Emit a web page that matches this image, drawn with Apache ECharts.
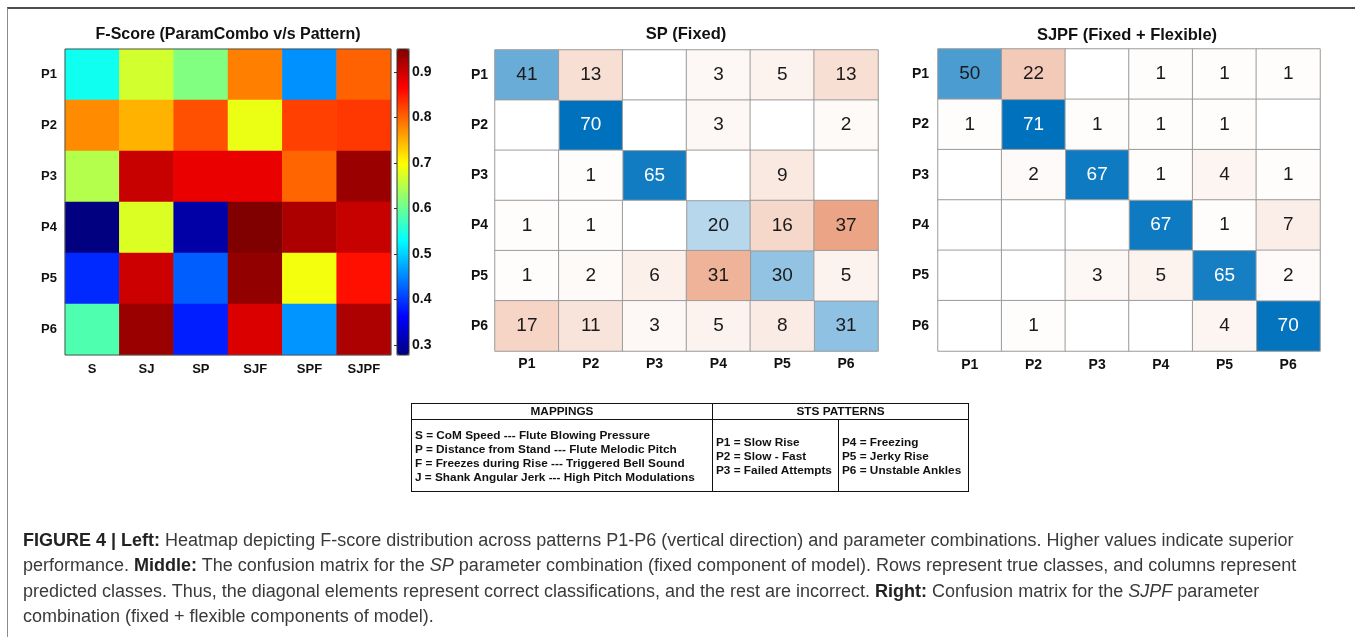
<!DOCTYPE html>
<html>
<head>
<meta charset="utf-8">
<script src="https://cdn.jsdelivr.net/npm/echarts@6/dist/echarts.min.js"></script>
<style>
  html, body { margin: 0; padding: 0; background: #fff; }
  #wrap { position: relative; width: 1355px; height: 637px; overflow: hidden; }
  #chart { position: absolute; left: 0; top: 0; width: 1355px; height: 637px; }
  #frame { position: absolute; left: 7px; top: 7px; width: 1400px; height: 700px;
           border-top: 2px solid #4d4d4d; border-left: 1.5px solid #8c8c8c; pointer-events: none; }
  #mapTable { position: absolute; left: 411px; top: 403px; border-collapse: collapse; table-layout: fixed;
              font-family: 'Liberation Sans', Arial, Helvetica, sans-serif; font-weight: bold;
              font-size: 11.8px; color: #111; }
  #mapTable th, #mapTable td { border: 1.5px solid #111; padding: 0 3px; overflow: hidden; }
  #mapTable th { height: 15px; line-height: 15px; text-align: center; }
  #mapTable td { height: 71px; line-height: 14px; vertical-align: middle; white-space: nowrap; }
  #caption { position: absolute; left: 23px; top: 528px; font-family: 'Liberation Sans', Arial, Helvetica, sans-serif;
             font-size: 18px; line-height: 25.4px; color: #3a3a3a; white-space: nowrap; }
  #caption b { color: #222; }
</style>
</head>
<body>
<div id="wrap">
  <div id="chart"></div>
  <div id="frame"></div>
  <table id="mapTable">
    <colgroup><col style="width:301px"><col style="width:126px"><col style="width:130px"></colgroup>
    <tr><th>MAPPINGS</th><th colspan="2">STS PATTERNS</th></tr>
    <tr>
      <td>S = CoM Speed --- Flute Blowing Pressure<br>P = Distance from Stand --- Flute Melodic Pitch<br>F = Freezes during Rise --- Triggered Bell Sound<br>J = Shank Angular Jerk --- High Pitch Modulations</td>
      <td>P1 = Slow Rise<br>P2 = Slow - Fast<br>P3 = Failed Attempts</td>
      <td>P4 = Freezing<br>P5 = Jerky Rise<br>P6 = Unstable Ankles</td>
    </tr>
  </table>
  <div id="caption">
    <b>FIGURE 4 | Left:</b> Heatmap depicting F-score distribution across patterns P1-P6 (vertical direction) and parameter combinations. Higher values indicate superior<br>
    performance. <b>Middle:</b> The confusion matrix for the <i>SP</i> parameter combination (fixed component of model). Rows represent true classes, and columns represent<br>
    predicted classes. Thus, the diagonal elements represent correct classifications, and the rest are incorrect. <b>Right:</b> Confusion matrix for the <i>SJPF</i> parameter<br>
    combination (fixed + flexible components of model).
  </div>
</div>
<script>
// Row / column categories
const patterns = ['P1', 'P2', 'P3', 'P4', 'P5', 'P6'];
const paramCombos = ['S', 'SJ', 'SP', 'SJF', 'SPF', 'SJPF'];

// F-score per pattern (rows) and parameter combination (columns)
const fScoreP1 = [0.540, 0.668, 0.614, 0.782, 0.457, 0.802];
const fScoreP2 = [0.774, 0.748, 0.814, 0.685, 0.824, 0.830];
const fScoreP3 = [0.648, 0.903, 0.879, 0.879, 0.800, 0.932];
const fScoreP4 = [0.278, 0.675, 0.303, 0.950, 0.921, 0.903];
const fScoreP5 = [0.389, 0.900, 0.424, 0.938, 0.690, 0.856];
const fScoreP6 = [0.582, 0.932, 0.382, 0.890, 0.460, 0.920];
const fScore = [fScoreP1, fScoreP2, fScoreP3, fScoreP4, fScoreP5, fScoreP6];

// Confusion matrix, SP (fixed): rows = true class, columns = predicted class
const spMatrix = [
  [41, 13, 0, 3, 5, 13],
  [0, 70, 0, 3, 0, 2],
  [0, 1, 65, 0, 9, 0],
  [1, 1, 0, 20, 16, 37],
  [1, 2, 6, 31, 30, 5],
  [17, 11, 3, 5, 8, 31]
];

// Confusion matrix, SJPF (fixed + flexible)
const sjpfMatrix = [
  [50, 22, 0, 1, 1, 1],
  [1, 71, 1, 1, 1, 0],
  [0, 2, 67, 1, 4, 1],
  [0, 0, 0, 67, 1, 7],
  [0, 0, 3, 5, 65, 2],
  [0, 1, 0, 0, 4, 70]
];

// Colour bar tick labels
const colorbarTicks = [0.3, 0.4, 0.5, 0.6, 0.7, 0.8, 0.9];

const FONT = "'Liberation Sans', Arial, Helvetica, sans-serif";
const JET = ['#000080', '#0000ff', '#0080ff', '#00ffff', '#80ff80', '#ffff00', '#ff8000', '#ff0000', '#800000'];
const DIAG_COLOR = '#0072BD';
const OFF_COLOR = '#D95319';

const allF = fScore.flat();
const fMin = Math.min(...allF);
const fMax = Math.max(...allF);

const heatData = [];
fScore.forEach((row, i) => row.forEach((v, j) => heatData.push([j, i, v])));

function cmData(matrix, diagonal) {
  const max = Math.max(...matrix.flat());
  const out = [];
  matrix.forEach((row, i) => row.forEach((v, j) => {
    if ((i === j) !== diagonal) return;
    out.push({ value: [j, i, v], label: { color: v / max > 0.8 ? '#ffffff' : '#1a1a1a' } });
  }));
  return out;
}

function cmSeries(matrix, diagonal, axisIdx) {
  return {
    type: 'heatmap',
    xAxisIndex: axisIdx, yAxisIndex: axisIdx,
    data: cmData(matrix, diagonal),
    itemStyle: { borderColor: '#9b9b9b', borderWidth: 1 },
    label: {
      show: true, fontFamily: FONT, fontSize: 19,
      formatter: p => (p.value[2] === 0 ? '' : String(p.value[2]))
    },
    emphasis: { disabled: true },
    silent: true
  };
}

const catLabel = { fontFamily: FONT, fontWeight: 'bold', fontSize: 14, color: '#111' };

const option = {
  animation: false,
  grid: [
    { left: 65, top: 49, width: 326, height: 306, show: true, borderColor: '#555', borderWidth: 1, backgroundColor: 'transparent', z: 10 },
    { left: 397, top: 49, width: 12, height: 306, show: true, borderColor: '#333', borderWidth: 1, backgroundColor: 'transparent', z: 10 },
    { left: 495, top: 50, width: 383, height: 301 },
    { left: 938, top: 49, width: 382, height: 302 }
  ],
  xAxis: [
    { gridIndex: 0, type: 'category', data: paramCombos, axisLine: { show: false },
      axisTick: { show: true, inside: true, alignWithLabel: true, length: 3, lineStyle: { color: '#555' } },
      axisLabel: Object.assign({ margin: 8 }, catLabel, { fontSize: 13 }) },
    { gridIndex: 1, type: 'value', min: 0, max: 1, show: false },
    { gridIndex: 2, type: 'category', data: patterns, axisLine: { show: false }, axisTick: { show: false },
      axisLabel: Object.assign({ margin: 6 }, catLabel) },
    { gridIndex: 3, type: 'category', data: patterns, axisLine: { show: false }, axisTick: { show: false },
      axisLabel: Object.assign({ margin: 7 }, catLabel) }
  ],
  yAxis: [
    { gridIndex: 0, type: 'category', data: patterns, inverse: true, axisLine: { show: false },
      axisTick: { show: true, inside: true, alignWithLabel: true, length: 3, lineStyle: { color: '#555' } },
      axisLabel: Object.assign({ margin: 8 }, catLabel, { fontSize: 13 }) },
    { gridIndex: 1, type: 'value', position: 'right', min: fMin, max: fMax,
      splitLine: { show: false }, axisLine: { show: false },
      axisTick: { show: true, inside: true, length: 3, customValues: colorbarTicks, lineStyle: { color: '#333' } },
      axisLabel: { margin: 3, customValues: colorbarTicks, formatter: v => v.toFixed(1),
                   fontFamily: FONT, fontWeight: 'bold', fontSize: 14, color: '#111' } },
    { gridIndex: 2, type: 'category', data: patterns, inverse: true, axisLine: { show: false }, axisTick: { show: false },
      axisLabel: Object.assign({ margin: 7 }, catLabel) },
    { gridIndex: 3, type: 'category', data: patterns, inverse: true, axisLine: { show: false }, axisTick: { show: false },
      axisLabel: Object.assign({ margin: 9 }, catLabel) }
  ],
  visualMap: [
    { type: 'continuous', seriesIndex: 0, dimension: 2, min: fMin, max: fMax,
      inRange: { color: JET }, left: 397, top: 49, itemWidth: 12, itemHeight: 306,
      calculable: false, hoverLink: false, text: null, padding: 0, showLabel: false },
    { type: 'continuous', show: false, seriesIndex: 1, dimension: 2, min: 0, max: Math.max(...spMatrix.flat()),
      inRange: { color: ['#ffffff', DIAG_COLOR] } },
    { type: 'continuous', show: false, seriesIndex: 2, dimension: 2, min: 0, max: Math.max(...spMatrix.flat()),
      inRange: { color: ['#ffffff', OFF_COLOR] } },
    { type: 'continuous', show: false, seriesIndex: 3, dimension: 2, min: 0, max: Math.max(...sjpfMatrix.flat()),
      inRange: { color: ['#ffffff', DIAG_COLOR] } },
    { type: 'continuous', show: false, seriesIndex: 4, dimension: 2, min: 0, max: Math.max(...sjpfMatrix.flat()),
      inRange: { color: ['#ffffff', OFF_COLOR] } }
  ],
  series: [
    { type: 'heatmap', xAxisIndex: 0, yAxisIndex: 0, data: heatData, emphasis: { disabled: true }, silent: true },
    cmSeries(spMatrix, true, 2),
    cmSeries(spMatrix, false, 2),
    cmSeries(sjpfMatrix, true, 3),
    cmSeries(sjpfMatrix, false, 3)
  ],
  graphic: [
    { type: 'text', x: 228, y: 35, style: { text: 'F-Score (ParamCombo v/s Pattern)', textAlign: 'center', textVerticalAlign: 'middle',
      font: "bold 16px 'Liberation Sans', Arial, sans-serif", fill: '#111' } },
    { type: 'text', x: 686, y: 34, style: { text: 'SP (Fixed)', textAlign: 'center', textVerticalAlign: 'middle',
      font: "bold 16.5px 'Liberation Sans', Arial, sans-serif", fill: '#111' } },
    { type: 'text', x: 1127, y: 35, style: { text: 'SJPF (Fixed + Flexible)', textAlign: 'center', textVerticalAlign: 'middle',
      font: "bold 16.5px 'Liberation Sans', Arial, sans-serif", fill: '#111' } }
  ]
};

const chart = echarts.init(document.getElementById('chart'), null, { renderer: 'canvas' });
chart.setOption(option);
</script>
</body>
</html>
